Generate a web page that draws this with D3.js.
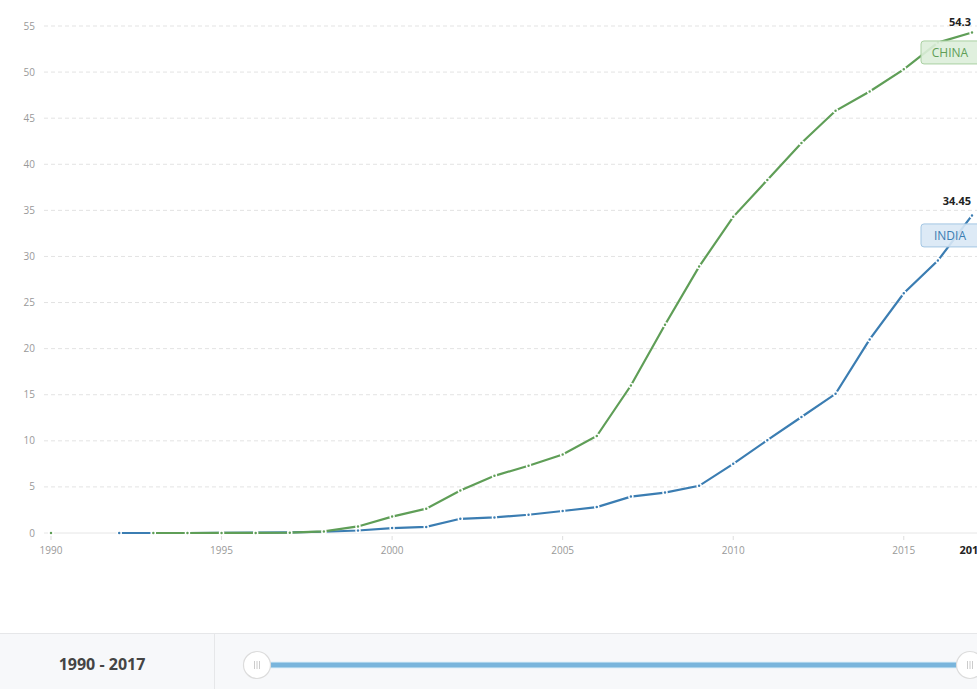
<!DOCTYPE html>
<html>
<head>
<meta charset="utf-8">
<script src="https://cdn.jsdelivr.net/npm/d3@7/dist/d3.min.js"></script>
<style>
  body { margin: 0; background: #fff; font-family: "Open Sans", sans-serif; }
  svg { display: block; }
</style>
</head>
<body>
<div id="chart"></div>
<script>
// internet users, % of population
const years = d3.range(1990, 2018);
const china = [0, null, null, 0.0001, 0.0012, 0.005, 0.013, 0.033, 0.17, 0.71,
  1.78, 2.64, 4.6, 6.2, 7.3, 8.52, 10.52, 16, 22.6, 28.9,
  34.3, 38.3, 42.3, 45.8, 47.9, 50.3, 53.2, 54.3];
const india = [0, null, 0.0005, 0.001, 0.001, 0.027, 0.046, 0.071, 0.136, 0.27,
  0.53, 0.66, 1.54, 1.69, 1.98, 2.39, 2.81, 3.95, 4.38, 5.12,
  7.5, 10.07, 12.58, 15.1, 21, 26, 29.55, 34.45];
const yTicks = [0, 5, 10, 15, 20, 25, 30, 35, 40, 45, 50, 55];
const xTicks = [1990, 1995, 2000, 2005, 2010, 2015];

const width = 977, height = 689;
const svg = d3.select("#chart").append("svg")
  .attr("width", width).attr("height", height);

const x = d3.scaleLinear().domain([1990, 2017]).range([51, 972]);
const y = d3.scaleLinear().domain([0, 55]).range([533, 26]);

// grid
let grid = svg.append("g");
yTicks.forEach(t => {
  grid.append("line")
    .attr("x1", 44).attr("x2", width)
    .attr("y1", y(t)).attr("y2", y(t))
    .attr("stroke", t == 0 ? "#e6e6e6" : "#e3e3e3")
    .attr("stroke-dasharray", t == 0 ? null : "4,3");
  grid.append("text")
    .attr("x", 35).attr("y", y(t) + 3.5)
    .attr("text-anchor", "end")
    .attr("font-size", 10).attr("fill", "#999")
    .text(t);
});

xTicks.forEach(t => {
  grid.append("line")
    .attr("x1", x(t)).attr("x2", x(t))
    .attr("y1", 536).attr("y2", 540)
    .attr("stroke", "#ddd");
  grid.append("text")
    .attr("x", x(t)).attr("y", 554)
    .attr("text-anchor", "middle")
    .attr("font-size", 10).attr("fill", "#999")
    .text(t);
});
grid.append("text")
  .attr("x", x(2017)).attr("y", 554)
  .attr("text-anchor", "middle")
  .attr("font-size", 11).attr("font-weight", "bold").attr("fill", "#222")
  .text(2017);

// india drawn first so china sits on top near zero
const series = [
  { name: "INDIA", values: india, color: "#3b7db2", fill: "#d9e8f5", border: "#a3c6e3" },
  { name: "CHINA", values: china, color: "#5f9e57", fill: "#ddeeda", border: "#a9d0a2" }
];

const line = d3.line()
  .defined(d => d[1] != null)
  .x(d => x(d[0])).y(d => y(d[1]));

let plot = svg.append("g");
series.forEach(s => {
  const pts = years.map((yr, i) => [yr, s.values[i]]);
  plot.append("path")
    .attr("d", line(pts))
    .attr("fill", "none")
    .attr("stroke", s.color)
    .attr("stroke-width", 2.2);
  plot.selectAll(null)
    .data(pts.filter(d => d[1] != null))
    .enter().append("circle")
    .attr("cx", d => x(d[0])).attr("cy", d => y(d[1]))
    .attr("r", 2)
    .attr("fill", s.color)
    .attr("stroke", "#fff").attr("stroke-width", 1.5);
});

// end labels
series.forEach(s => {
  const last = s.values[s.values.length - 1];
  const ly = y(last);
  svg.append("text")
    .attr("x", x(2017) - 1).attr("y", Math.max(ly - 10, 26))
    .attr("text-anchor", "end")
    .attr("font-size", 11).attr("font-weight", "bold").attr("fill", "#222")
    .text(last);
  const bx = x(2017) - 51, by = ly + 8.5;
  svg.append("rect")
    .attr("x", bx).attr("y", by)
    .attr("width", 60).attr("height", 23).attr("rx", 3)
    .attr("fill", s.fill).attr("fill-opacity", 0.9).attr("stroke", s.border);
  svg.append("text")
    .attr("x", bx + 29).attr("y", by + 16)
    .attr("text-anchor", "middle")
    .attr("font-size", 12).attr("fill", s.color)
    .text(s.name);
});

// range slider panel
let panel = svg.append("g");
panel.append("rect")
  .attr("x", 0).attr("y", 633).attr("width", width).attr("height", 56)
  .attr("fill", "#f7f8fa");
panel.append("line")
  .attr("x1", 0).attr("x2", width).attr("y1", 633.5).attr("y2", 633.5)
  .attr("stroke", "#e6e7e9");
panel.append("line")
  .attr("x1", 214.5).attr("x2", 214.5).attr("y1", 634).attr("y2", height)
  .attr("stroke", "#e6e7e9");
panel.append("text")
  .attr("x", 102).attr("y", 670)
  .attr("text-anchor", "middle")
  .attr("font-size", 16).attr("font-weight", "bold").attr("fill", "#444")
  .text(years[0] + " - " + years[years.length - 1]);

panel.append("rect")
  .attr("x", 257).attr("y", 661.5).attr("width", 713).attr("height", 7)
  .attr("fill", "#dff0fa");
panel.append("rect")
  .attr("x", 257).attr("y", 662.5).attr("width", 713).attr("height", 5)
  .attr("fill", "#79b5dc");

[257, 970].forEach(cx => {
  panel.append("circle")
    .attr("cx", cx).attr("cy", 665).attr("r", 13.5)
    .attr("fill", "#fff").attr("stroke", "#dcdcdc").attr("stroke-width", 1.2);
  [-2.5, 0, 2.5].forEach(dx => {
    panel.append("line")
      .attr("x1", cx + dx).attr("x2", cx + dx)
      .attr("y1", 661).attr("y2", 669)
      .attr("stroke", "#ccc").attr("stroke-width", 1);
  });
});
</script>
</body>
</html>
